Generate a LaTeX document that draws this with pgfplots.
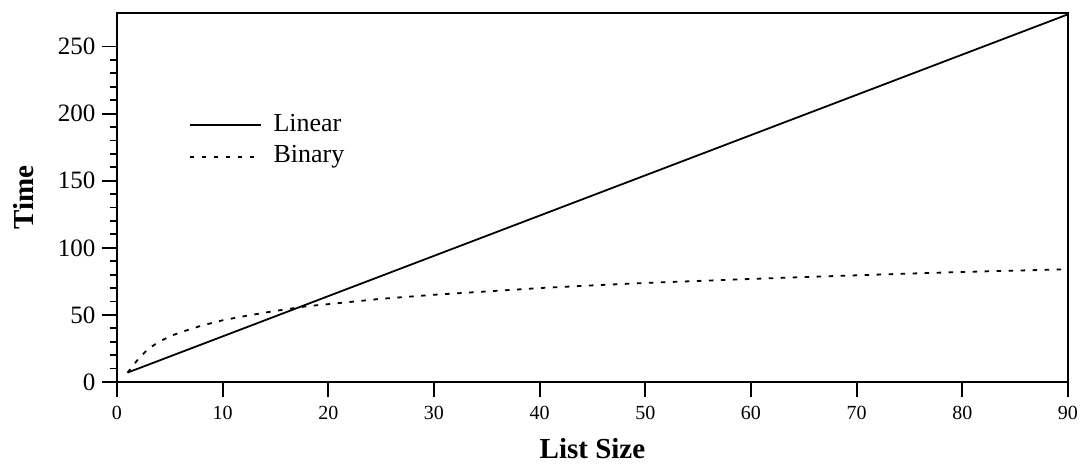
\documentclass[border=0pt]{standalone}
\usepackage{fontspec}
\setmainfont{Liberation Serif}
\usepackage{pgfplots}
\pgfplotsset{compat=1.18}
\begin{document}
\begin{tikzpicture}
\path[use as bounding box] (-58.5pt,-41pt) rectangle (483pt,191pt);
\begin{axis}[
  scale only axis,
  width=475.5pt, height=184.5pt,
  xmin=0, xmax=90, ymin=0, ymax=275,
  xtick={0,10,...,90},
  ytick={0,50,...,250},
  minor y tick num=4,
  tick pos=left, tick align=outside,
  major tick length=7.3pt, minor tick length=3.7pt,
  every tick/.style={black, line width=0.9pt},
  axis line style={line width=1.2pt},
  /pgf/number format/assume math mode=true,
  x tick label style={font=\fontsize{10}{12}\selectfont, yshift=-1.5pt},
  y tick label style={font=\fontsize{12.5}{14}\selectfont},
  xlabel={\textbf{List Size}},
  ylabel={\textbf{Time}},
  label style={font=\fontsize{14.5}{16}\selectfont},
  xlabel style={at={(axis description cs:0.5,0)}, anchor=center, yshift=-33.5pt},
  ylabel style={at={(axis description cs:0,0.5)}, anchor=center, yshift=46.5pt},
  legend style={draw=none, fill=none, at={(0.0750,0.729)}, anchor=north west,
    font=\fontsize{13}{15}\selectfont, inner sep=0pt, column sep=6pt, row sep=3.8pt,
    nodes={inner sep=0pt, text height=9pt, text depth=3pt}},
  legend cell align=left,
  legend image code/.code={\draw[#1] (0pt,0pt) -- (35.5pt,0pt);},
]
\addplot[black, line width=0.9pt] coordinates {(1,7) (90,274)};
\addlegendentry{Linear}
\addplot[black, line width=0.9pt, dash pattern=on 2.25pt off 3.75pt] coordinates {
(1,7) (2,17) (3,25) (4,30) (5,34) (6,37) (8,42) (10,46) (12,49) (15,53)
(18,56.5) (20,58) (25,62) (30,65) (35,67.5) (40,70) (45,72) (50,73.8)
(55,75.3) (60,76.8) (65,78.2) (70,79.5) (75,80.8) (80,82) (85,83) (90,84)};
\addlegendentry{Binary}
\end{axis}
\end{tikzpicture}
\end{document}
